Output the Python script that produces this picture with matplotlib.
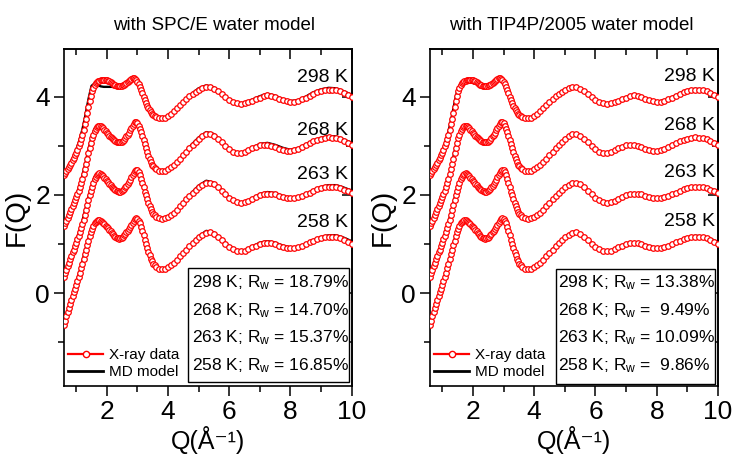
import numpy as np
import matplotlib
matplotlib.use('Agg')
import matplotlib.pyplot as plt
from matplotlib.lines import Line2D
from matplotlib.patches import Rectangle
from matplotlib.ticker import MultipleLocator, NullFormatter

plt.rcParams['font.family'] = ['Liberation Sans', 'DejaVu Sans']
plt.rcParams['mathtext.fontset'] = 'custom'
plt.rcParams['mathtext.rm'] = 'Liberation Sans'
plt.rcParams['mathtext.it'] = 'Liberation Sans:italic'
plt.rcParams['mathtext.bf'] = 'Liberation Sans:bold'

# ---------------- data ----------------
temperatures = ['298 K', '268 K', '263 K', '258 K']
offsets = [3, 2, 1, 0]
titles = ['with SPC/E water model', 'with TIP4P/2005 water model']
rw_spce = [18.79, 14.70, 15.37, 16.85]
rw_tip4p = [13.38, 9.49, 10.09, 9.86]
x_ticks = [2, 4, 6, 8, 10]
y_ticks = [0, 2, 4]

q_data = [0.60, 0.64, 0.68, 0.72, 0.76, 0.80, 0.84, 0.88, 0.92, 0.96,
          1.00, 1.04, 1.08, 1.12, 1.16, 1.20, 1.24, 1.28, 1.32, 1.36,
          1.40, 1.44, 1.48, 1.52, 1.56, 1.60, 1.64, 1.68, 1.72, 1.76,
          1.80, 1.84, 1.88, 1.92, 1.96, 2.00, 2.04, 2.08, 2.12, 2.16,
          2.20, 2.24, 2.28, 2.32, 2.36, 2.40, 2.44, 2.48, 2.52, 2.56,
          2.60, 2.64, 2.68, 2.72, 2.76, 2.80, 2.84, 2.88, 2.92, 2.96,
          3.00, 3.04, 3.08, 3.12, 3.16, 3.20, 3.24, 3.28, 3.32, 3.36,
          3.40, 3.44, 3.48, 3.52, 3.56, 3.60,
          3.7, 3.8, 3.9, 4.0, 4.1, 4.2, 4.3, 4.4, 4.5, 4.6, 4.7, 4.8, 4.9, 5.0,
          5.125, 5.25, 5.375, 5.5, 5.625, 5.75, 5.875, 6.0, 6.125, 6.25,
          6.375, 6.5, 6.625, 6.75, 6.875, 7.0, 7.125, 7.25, 7.375, 7.5,
          7.625, 7.75, 7.875, 8.0, 8.125, 8.25, 8.375, 8.5, 8.625, 8.75,
          8.875, 9.0, 9.125, 9.25, 9.375, 9.5, 9.625, 9.75, 9.875, 10.0]

xray_298 = [-0.59, -0.55, -0.51, -0.47, -0.43, -0.38, -0.34, -0.29, -0.24, -0.19,
            -0.14, -0.08, -0.01, 0.06, 0.14, 0.23, 0.33, 0.44, 0.55, 0.67,
            0.79, 0.91, 1.02, 1.11, 1.18, 1.23, 1.27, 1.29, 1.31, 1.32,
            1.33, 1.34, 1.34, 1.34, 1.34, 1.33, 1.32, 1.31, 1.29, 1.28,
            1.26, 1.24, 1.23, 1.22, 1.21, 1.21, 1.21, 1.22, 1.23, 1.24,
            1.26, 1.28, 1.30, 1.32, 1.34, 1.36, 1.37, 1.37, 1.36, 1.34,
            1.30, 1.25, 1.19, 1.13, 1.07, 1.00, 0.93, 0.87, 0.81, 0.76,
            0.72, 0.68, 0.65, 0.62, 0.60, 0.59,
            0.57, 0.56, 0.57, 0.60, 0.64, 0.70, 0.76, 0.83, 0.89, 0.95, 1.01, 1.06, 1.10, 1.14,
            1.17, 1.19, 1.19, 1.16, 1.11, 1.05, 0.99, 0.93, 0.89, 0.87,
            0.86, 0.87, 0.89, 0.92, 0.95, 0.98, 1.01, 1.03, 1.02, 0.99,
            0.96, 0.93, 0.91, 0.90, 0.90, 0.92, 0.95, 0.98, 1.02, 1.06,
            1.09, 1.12, 1.13, 1.14, 1.14, 1.13, 1.11, 1.07, 1.03, 1.00]

xray_268 = [-0.64, -0.58, -0.52, -0.47, -0.41, -0.35, -0.29, -0.23, -0.17, -0.11,
            -0.05, 0.02, 0.09, 0.16, 0.24, 0.33, 0.42, 0.52, 0.63, 0.74,
            0.85, 0.96, 1.06, 1.15, 1.23, 1.30, 1.35, 1.38, 1.40, 1.41,
            1.40, 1.38, 1.36, 1.33, 1.30, 1.27, 1.24, 1.21, 1.18, 1.16,
            1.13, 1.11, 1.09, 1.08, 1.07, 1.07, 1.07, 1.08, 1.10, 1.12,
            1.15, 1.19, 1.23, 1.27, 1.32, 1.36, 1.41, 1.45, 1.48, 1.48,
            1.46, 1.41, 1.35, 1.28, 1.20, 1.11, 1.03, 0.95, 0.87, 0.80,
            0.73, 0.67, 0.62, 0.58, 0.55, 0.52,
            0.49, 0.48, 0.49, 0.52, 0.56, 0.61, 0.67, 0.74, 0.81, 0.88, 0.95, 1.02, 1.08, 1.14,
            1.19, 1.24, 1.25, 1.21, 1.14, 1.07, 1.00, 0.93, 0.88, 0.86,
            0.85, 0.87, 0.91, 0.95, 0.98, 1.01, 1.02, 1.02, 1.00, 0.97,
            0.94, 0.92, 0.90, 0.90, 0.91, 0.94, 0.98, 1.02, 1.06, 1.09,
            1.12, 1.14, 1.16, 1.17, 1.16, 1.15, 1.13, 1.09, 1.05, 1.02]

xray_263 = [-0.66, -0.59, -0.52, -0.45, -0.38, -0.31, -0.24, -0.17, -0.11, -0.04,
            0.03, 0.10, 0.17, 0.25, 0.32, 0.41, 0.50, 0.60, 0.70, 0.80,
            0.90, 0.99, 1.08, 1.17, 1.25, 1.32, 1.37, 1.41, 1.43, 1.44,
            1.43, 1.41, 1.38, 1.35, 1.32, 1.29, 1.26, 1.23, 1.20, 1.17,
            1.15, 1.12, 1.10, 1.09, 1.08, 1.07, 1.07, 1.08, 1.10, 1.13,
            1.16, 1.19, 1.23, 1.27, 1.31, 1.36, 1.41, 1.45, 1.49, 1.51,
            1.50, 1.46, 1.40, 1.33, 1.25, 1.16, 1.07, 0.99, 0.91, 0.84,
            0.77, 0.71, 0.66, 0.62, 0.59, 0.56,
            0.53, 0.52, 0.53, 0.55, 0.59, 0.64, 0.70, 0.77, 0.84, 0.91, 0.98, 1.05, 1.11, 1.16,
            1.21, 1.25, 1.25, 1.22, 1.16, 1.09, 1.01, 0.94, 0.89, 0.85,
            0.84, 0.85, 0.88, 0.92, 0.96, 0.99, 1.02, 1.03, 1.03, 1.01,
            0.98, 0.96, 0.94, 0.93, 0.93, 0.95, 0.98, 1.01, 1.05, 1.09,
            1.12, 1.14, 1.16, 1.17, 1.17, 1.16, 1.14, 1.11, 1.08, 1.05]

xray_258 = [-0.64, -0.56, -0.47, -0.38, -0.30, -0.22, -0.14, -0.06, 0.02, 0.09,
            0.17, 0.25, 0.33, 0.42, 0.51, 0.60, 0.69, 0.79, 0.88, 0.98,
            1.07, 1.16, 1.24, 1.31, 1.37, 1.42, 1.45, 1.48, 1.49, 1.49,
            1.48, 1.46, 1.43, 1.40, 1.37, 1.35, 1.32, 1.29, 1.26, 1.23,
            1.20, 1.17, 1.15, 1.13, 1.12, 1.11, 1.12, 1.13, 1.15, 1.18,
            1.21, 1.24, 1.27, 1.31, 1.35, 1.39, 1.44, 1.48, 1.51, 1.53,
            1.52, 1.48, 1.42, 1.35, 1.27, 1.18, 1.09, 1.00, 0.92, 0.84,
            0.77, 0.70, 0.65, 0.60, 0.57, 0.54,
            0.50, 0.49, 0.50, 0.53, 0.57, 0.62, 0.68, 0.75, 0.82, 0.89, 0.96, 1.03, 1.09, 1.14,
            1.19, 1.23, 1.24, 1.21, 1.15, 1.08, 1.01, 0.95, 0.90, 0.87,
            0.86, 0.87, 0.90, 0.94, 0.97, 1.00, 1.02, 1.03, 1.02, 1.00,
            0.97, 0.95, 0.93, 0.92, 0.92, 0.94, 0.97, 1.00, 1.04, 1.07,
            1.10, 1.12, 1.14, 1.15, 1.15, 1.14, 1.12, 1.09, 1.05, 1.01]

q_model = [0.6, 0.7, 0.8, 0.9, 1.0, 1.1, 1.2, 1.3, 1.4, 1.5,
           1.6, 1.7, 1.8, 1.9, 2.0, 2.1, 2.2, 2.3, 2.4, 2.5,
           2.6, 2.7, 2.8, 2.9, 3.0, 3.1, 3.2, 3.3, 3.4, 3.5,
           3.6, 3.7, 3.8, 3.9, 4.0,
           4.25, 4.5, 4.75, 5.0, 5.25, 5.5, 5.75, 6.0, 6.25, 6.5,
           6.75, 7.0, 7.25, 7.5, 7.75, 8.0, 8.25, 8.5, 8.75, 9.0,
           9.25, 9.5, 9.75, 10.0]

spce_298 = [-0.59, -0.48, -0.36, -0.23, -0.08, 0.10, 0.33, 0.62, 0.95, 1.22,
            1.27, 1.24, 1.21, 1.20, 1.20, 1.20, 1.20, 1.21, 1.22, 1.24,
            1.28, 1.34, 1.39, 1.39, 1.31, 1.16, 0.99, 0.83, 0.70, 0.61,
            0.56, 0.54, 0.53, 0.55, 0.58,
            0.72, 0.89, 1.05, 1.17, 1.23, 1.19, 1.07, 0.94, 0.87, 0.87,
            0.94, 1.01, 1.06, 1.02, 0.95, 0.91, 0.93, 1.00, 1.09, 1.15,
            1.18, 1.17, 1.11, 1.04]
spce_268 = [-0.64, -0.48, -0.33, -0.17, -0.01, 0.17, 0.39, 0.64, 0.92, 1.17,
            1.35, 1.42, 1.41, 1.34, 1.26, 1.18, 1.11, 1.06, 1.05, 1.08,
            1.14, 1.24, 1.35, 1.46, 1.48, 1.36, 1.14, 0.93, 0.74, 0.60,
            0.52, 0.48, 0.47, 0.49, 0.52,
            0.64, 0.82, 1.01, 1.17, 1.28, 1.24, 1.09, 0.94, 0.86, 0.87,
            0.96, 1.04, 1.06, 1.02, 0.96, 0.92, 0.95, 1.03, 1.11, 1.16,
            1.20, 1.19, 1.13, 1.06]
spce_263 = [-0.66, -0.47, -0.29, -0.11, 0.07, 0.26, 0.47, 0.71, 0.96, 1.18,
            1.37, 1.45, 1.44, 1.37, 1.28, 1.19, 1.12, 1.07, 1.05, 1.08,
            1.15, 1.24, 1.35, 1.46, 1.51, 1.41, 1.19, 0.97, 0.78, 0.64,
            0.56, 0.52, 0.51, 0.52, 0.55,
            0.67, 0.85, 1.03, 1.19, 1.29, 1.25, 1.11, 0.95, 0.85, 0.85,
            0.93, 1.02, 1.06, 1.04, 0.98, 0.94, 0.95, 1.01, 1.10, 1.16,
            1.20, 1.20, 1.15, 1.09]
spce_258 = [-0.64, -0.42, -0.20, 0.01, 0.21, 0.42, 0.65, 0.89, 1.12, 1.33,
            1.46, 1.51, 1.48, 1.41, 1.33, 1.25, 1.17, 1.11, 1.09, 1.12,
            1.19, 1.28, 1.38, 1.49, 1.53, 1.43, 1.21, 0.98, 0.78, 0.63,
            0.54, 0.50, 0.49, 0.50, 0.53,
            0.65, 0.82, 1.00, 1.16, 1.27, 1.24, 1.10, 0.96, 0.87, 0.87,
            0.95, 1.03, 1.06, 1.03, 0.97, 0.93, 0.94, 1.00, 1.08, 1.14,
            1.18, 1.18, 1.13, 1.06]

tip4p_298 = [-0.59, -0.49, -0.37, -0.25, -0.11, 0.06, 0.28, 0.56, 0.87, 1.15,
             1.27, 1.29, 1.29, 1.29, 1.28, 1.26, 1.24, 1.21, 1.20, 1.22,
             1.26, 1.32, 1.37, 1.38, 1.30, 1.15, 0.99, 0.83, 0.71, 0.62,
             0.57, 0.55, 0.54, 0.56, 0.59,
             0.72, 0.89, 1.04, 1.15, 1.21, 1.17, 1.05, 0.92, 0.85, 0.86,
             0.92, 0.99, 1.04, 1.00, 0.94, 0.90, 0.92, 0.99, 1.07, 1.13,
             1.16, 1.15, 1.09, 1.02]
tip4p_268 = [-0.64, -0.49, -0.34, -0.19, -0.03, 0.14, 0.35, 0.60, 0.88, 1.13,
             1.31, 1.39, 1.40, 1.35, 1.27, 1.19, 1.12, 1.08, 1.06, 1.09,
             1.15, 1.25, 1.36, 1.47, 1.47, 1.33, 1.12, 0.91, 0.73, 0.60,
             0.52, 0.48, 0.47, 0.49, 0.52,
             0.64, 0.81, 0.99, 1.15, 1.25, 1.22, 1.07, 0.92, 0.84, 0.86,
             0.95, 1.02, 1.03, 0.98, 0.93, 0.90, 0.94, 1.02, 1.10, 1.15,
             1.18, 1.17, 1.11, 1.04]
tip4p_263 = [-0.66, -0.48, -0.30, -0.13, 0.05, 0.23, 0.44, 0.68, 0.93, 1.15,
             1.34, 1.43, 1.43, 1.37, 1.29, 1.20, 1.14, 1.09, 1.06, 1.09,
             1.16, 1.25, 1.36, 1.47, 1.51, 1.38, 1.17, 0.95, 0.77, 0.64,
             0.56, 0.52, 0.51, 0.52, 0.55,
             0.67, 0.84, 1.02, 1.17, 1.27, 1.23, 1.09, 0.93, 0.84, 0.85,
             0.92, 1.00, 1.04, 1.02, 0.97, 0.93, 0.95, 1.01, 1.09, 1.15,
             1.18, 1.18, 1.13, 1.07]
tip4p_258 = [-0.64, -0.42, -0.21, 0.00, 0.19, 0.39, 0.62, 0.86, 1.09, 1.30,
             1.44, 1.50, 1.48, 1.41, 1.34, 1.27, 1.19, 1.13, 1.10, 1.13,
             1.20, 1.29, 1.39, 1.50, 1.53, 1.41, 1.19, 0.97, 0.77, 0.62,
             0.54, 0.50, 0.48, 0.50, 0.53,
             0.65, 0.82, 1.00, 1.15, 1.25, 1.22, 1.09, 0.95, 0.86, 0.86,
             0.94, 1.01, 1.04, 1.01, 0.96, 0.92, 0.94, 1.00, 1.08, 1.13,
             1.17, 1.16, 1.11, 1.04]

xray_sets = [xray_298, xray_268, xray_263, xray_258]
model_sets = [[spce_298, spce_268, spce_263, spce_258],
              [tip4p_298, tip4p_268, tip4p_263, tip4p_258]]
rw_sets = [rw_spce, rw_tip4p]

# ---------------- layout ----------------
W, H = 734, 455
fig = plt.figure(figsize=(W / 100, H / 100), dpi=100)
ax_bottom = 1 - 385.7 / H
ax_height = 336.7 / H
axes = [fig.add_axes([64 / W, ax_bottom, 287.6 / W, ax_height]),
        fig.add_axes([430 / W, ax_bottom, 288 / W, ax_height])]

label_pos = [[(9.88, 4.39), (9.88, 3.31), (9.88, 2.41), (9.88, 1.44)],
             [(9.91, 4.41), (9.91, 3.42), (9.91, 2.45), (9.91, 1.46)]]
title_x = [0.52, 0.49]

for p, ax in enumerate(axes):
    for i in range(4):
        ym = np.asarray(model_sets[p][i]) + offsets[i]
        ax.plot(q_model, ym, color='black', lw=1.7, zorder=2,
                solid_joinstyle='round')
    for i in range(4):
        yd = np.asarray(xray_sets[i]) + offsets[i]
        ax.plot(q_data, yd, color='red', lw=1.0, marker='o', ms=4.0,
                mfc='white', mec='red', mew=0.9, zorder=3)
    ax.set_xlim(0.6, 10)
    ax.set_ylim(-1.88, 4.97)
    ax.set_xticks(x_ticks)
    ax.set_yticks(y_ticks)
    ax.xaxis.set_minor_locator(MultipleLocator(1))
    ax.yaxis.set_minor_locator(MultipleLocator(1))
    ax.tick_params(which='major', direction='out', length=7, width=1.1,
                   labelsize=19, pad=3)
    ax.tick_params(which='minor', direction='out', length=4, width=1.1)
    for s in ax.spines.values():
        s.set_linewidth(1.2)
    top = ax.secondary_xaxis('top')
    top.set_xticks(x_ticks)
    top.xaxis.set_minor_locator(MultipleLocator(1))
    top.xaxis.set_major_formatter(NullFormatter())
    top.tick_params(which='major', direction='in', length=7, width=1.1)
    top.tick_params(which='minor', direction='in', length=4, width=1.1)
    top.spines['top'].set_linewidth(1.2)
    right = ax.secondary_yaxis('right')
    right.set_yticks(y_ticks)
    right.yaxis.set_minor_locator(MultipleLocator(1))
    right.yaxis.set_major_formatter(NullFormatter())
    right.tick_params(which='major', direction='in', length=7, width=1.1)
    right.tick_params(which='minor', direction='in', length=4, width=1.1)
    right.spines['right'].set_linewidth(1.2)

    ax.set_xlabel('Q(Å\u207b\u00b9)', fontsize=18)
    ax.xaxis.set_label_coords(0.5, (385.7 - 425.5) / 336.7)
    ax.set_ylabel('F(Q)', fontsize=20, labelpad=4)
    ax.text(title_x[p], 1.071, titles[p], transform=ax.transAxes,
            ha='center', va='center', fontsize=13.5)

    for i, t in enumerate(temperatures):
        x, y = label_pos[p][i]
        ax.text(x, y, t, ha='right', va='center', fontsize=14, zorder=5)

    # R_w box
    if p == 0:
        bx0, bx1, by0, by1, tx = 0.431, 0.991, 0.011, 0.350, 0.444
    else:
        bx0, bx1, by0, by1, tx = 0.437, 0.990, 0.005, 0.347, 0.444
    ax.add_patch(Rectangle((bx0, by0), bx1 - bx0, by1 - by0,
                           transform=ax.transAxes, facecolor='white',
                           edgecolor='black', lw=1.0, zorder=4))
    rows = [0.305, 0.224, 0.142, 0.059]
    for i, t in enumerate(temperatures):
        s = t + '; R$_{\\rm w}$ = ' + format(rw_sets[p][i], '5.2f') + '%'
        ax.text(tx, rows[i], s, transform=ax.transAxes, ha='left',
                va='center', fontsize=12.5, zorder=5)

    handles = [Line2D([], [], color='red', lw=1.6, marker='o', ms=4.5,
                      mfc='white', mec='red', mew=1.0),
               Line2D([], [], color='black', lw=2.0)]
    ax.legend(handles, ['X-ray data', 'MD model'], loc='lower left',
              bbox_to_anchor=(0.015, 0.02), frameon=False, fontsize=11,
              handlelength=2.3, handletextpad=0.35, labelspacing=0.2,
              borderpad=0, borderaxespad=0)

fig.savefig('out.png', dpi=100)
